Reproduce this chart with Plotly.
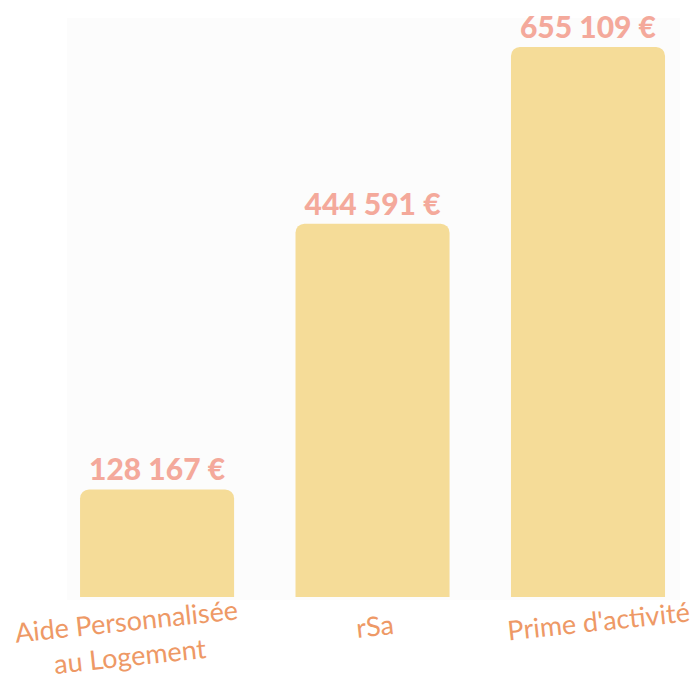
import plotly.graph_objects as go

categories = ["Aide Personnalisée<br>au Logement", "rSa", "Prime d'activité"]
values = [128167, 444591, 655109]
label_shift_x = [-29, 2, 10]
label_y = [-0.065, -0.043, -0.036]

value_labels = [f"{v:,}".replace(",", " ") + " €" for v in values]

BAR = "#F5DC98"
VAL = "#F4A99B"
CAT = "#EE9966"

fig = go.Figure()
fig.add_trace(go.Bar(
    x=list(range(len(values))), y=values,
    marker=dict(color=BAR, line=dict(width=0)),
    width=0.715,
    text=value_labels, textposition="outside",
    textfont=dict(family="Lato", size=30, color=VAL, weight=900),
    cliponaxis=False, hoverinfo="skip",
))

for i, c in enumerate(categories):
    fig.add_annotation(
        x=i, y=label_y[i], xref="x", yref="paper", text=c, showarrow=False,
        textangle=-6, xshift=label_shift_x[i], yanchor="middle",
        font=dict(family="Lato", size=27, color=CAT),
    )

fig.update_layout(
    width=694, height=685,
    margin=dict(l=67, r=14, t=18, b=85),
    paper_bgcolor="white", plot_bgcolor="#fcfcfc",
    barcornerradius=9,
    showlegend=False,
    xaxis=dict(range=[-0.418, 2.427], showticklabels=False, showgrid=False,
               zeroline=False, showline=False, ticks=""),
    yaxis=dict(range=[-3573, 689630], visible=False, showgrid=False, zeroline=False),
)

fig.write_html("out.html", config={"displayModeBar": False},
               post_script="document.body.style.margin='0';document.body.style.overflow='hidden';")
